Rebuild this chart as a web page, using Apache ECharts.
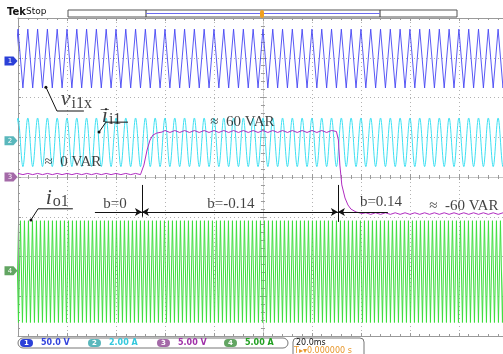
<!DOCTYPE html>
<html>
<head>
<meta charset="utf-8">
<script src="https://cdn.jsdelivr.net/npm/echarts@6/dist/echarts.min.js"></script>
<style>
  html, body { margin: 0; padding: 0; background: #fff; }
  #chart { width: 503px; height: 354px; }
</style>
</head>
<body>
<div id="chart"></div>
<script>
// Screen: 20 ms per division horizontally (trigger at 0), 8 divisions vertically.
const timeRangeMs = [-100, 98];
const timePerDivMs = 20;
const divRange = [-4, 4];

// Channel settings as shown in the status bar
const channelIds = ['1', '2', '3', '4'];
const channelScales = [50, 2, 5, 5];
const channelUnits = ['V', 'A', 'V', 'A'];
const channelOffsetDiv = [2.92, 0.91, 0, -2.36];
const channelColors = ['#4646f4', '#3ee0f2', '#b02cc0', '#3ede3e'];
const channelMarkerColors = ['#2b40d8', '#5ab7bc', '#a46aa8', '#62a562'];
const channelTextColors = ['#3344dd', '#33c8dd', '#a030a8', '#22a022'];

// Periodic traces (ch1 v_i1x, ch2 i_i1, ch4 i_o1): peak, trough, period, first peak
const waveChannels = [0, 1, 3];
const wavePeaks = [40, 1.15, 6.3];
const waveTroughs = [-34, -1.3, -6.5];
const wavePeriodsMs = [4.0, 4.0, 1.633];
const waveFirstPeakMs = [-100, -100, -99.0];

// Channel 3: reactive power trace [ms, V]
const reactiveTrace = [
  [-100, 0.45], [-98, 0.3], [-96, 0.45], [-94, 0.3], [-92, 0.45], [-90, 0.3],
  [-88, 0.45], [-86, 0.3], [-84, 0.45], [-82, 0.3], [-80, 0.45], [-78, 0.3],
  [-76, 0.45], [-74, 0.3], [-72, 0.45], [-70, 0.3], [-68, 0.45], [-66, 0.3],
  [-64, 0.45], [-62, 0.3], [-60, 0.45], [-58, 0.3], [-56, 0.45], [-54, 0.3],
  [-52, 0.45], [-50, 0.3],
  [-49.4, 0.5], [-48.6, 1.5], [-47.3, 3.4], [-46.1, 4.65], [-44.9, 5.28],
  [-43.3, 5.53], [-41.2, 5.66],
  [-40, 5.85], [-38, 5.6], [-36, 5.85], [-34, 5.6], [-32, 5.85], [-30, 5.6],
  [-28, 5.85], [-26, 5.6], [-24, 5.85], [-22, 5.6], [-20, 5.85], [-18, 5.6],
  [-16, 5.85], [-14, 5.6], [-12, 5.85], [-10, 5.6], [-8, 5.85], [-6, 5.6],
  [-4, 5.85], [-2, 5.6], [0, 5.85], [2, 5.6], [4, 5.85], [6, 5.6],
  [8, 5.85], [10, 5.6], [12, 5.85], [14, 5.6], [16, 5.85], [18, 5.6],
  [20, 5.85], [22, 5.6], [24, 5.85], [26, 5.6], [28, 5.85], [30, 5.72],
  [30.8, 4.65], [31.4, 1.5], [32.2, -1.0], [33.5, -2.64], [34.7, -3.52],
  [35.9, -4.03], [38, -4.4], [40.4, -4.59],
  [42, -4.5], [44, -4.7], [46, -4.5], [48, -4.7], [50, -4.5], [52, -4.7],
  [54, -4.5], [56, -4.7], [58, -4.5], [60, -4.7], [62, -4.5], [64, -4.7],
  [66, -4.5], [68, -4.7], [70, -4.5], [72, -4.7], [74, -4.5], [76, -4.7],
  [78, -4.5], [80, -4.7], [82, -4.5], [84, -4.7], [86, -4.5], [88, -4.7],
  [90, -4.5], [92, -4.7], [94, -4.5], [96, -4.7], [98, -4.5]
];

// Annotations in screen units [ms, div]
const noteTexts = [
  '{it|v}{sub|i1x}', '{it|i}{sub|i1}', '{bar|\u00af}', '{it|i}{sub|o1}',
  '{txt|≈  0 VAR}', '{txt|≈  60 VAR}', '{txt|≈  -60 VAR}',
  '{txt|b=0}', '{txt|b=-0.14}', '{txt|b=0.14}'
];
const notePositions = [
  [-76.2, 1.97], [-61.8, 1.56], [-64.6, 1.5], [-84.0, -0.5],
  [-77.6, 0.38], [-8.4, 1.38], [82, -0.73],
  [-60.4, -0.68], [-13.1, -0.68], [48.2, -0.63]
];
const leaderLines = [
  [[-88.6, 2.26], [-84.1, 1.66], [-73.1, 1.66]],
  [[-66.9, 1.13], [-64.1, 1.38], [-55.1, 1.38]],
  [[-94.7, -1.08], [-91.8, -0.8], [-77.6, -0.8]]
];
const switchTimesMs = [-49.4, 30.6];
const switchMarkDiv = [[-0.2, -1.0], [-0.2, -1.13]];
const arrowDiv = -0.88;
const arrowStartsMs = [-68.6, 51];

function zigzag(firstPeak, period, peak, trough) {
  const half = period / 2;
  const pts = [];
  let k = Math.floor((timeRangeMs[0] - firstPeak) / half) - 1;
  for (; firstPeak + k * half <= timeRangeMs[1] + half; k++) {
    const t = firstPeak + k * half;
    pts.push([+t.toFixed(4), ((k % 2) + 2) % 2 === 0 ? peak : trough]);
  }
  return pts;
}

const frameColor = '#9a9a9a';
const dotColor = '#b2b2b2';
const serif = '"Liberation Serif", "DejaVu Serif", serif';
const sans = '"DejaVu Sans", sans-serif';

const hidden = { show: false };
const tickStyle = { color: frameColor, width: 1 };

function timeAxis(extra) {
  return Object.assign({
    type: 'value',
    min: timeRangeMs[0],
    max: timeRangeMs[1],
    interval: timePerDivMs,
    axisLabel: hidden,
    splitLine: hidden,
    axisLine: { onZero: false, lineStyle: { color: frameColor, width: 1 } },
    axisTick: { show: true, inside: true, length: 3, lineStyle: tickStyle },
    minorTick: { show: true, splitNumber: 5, length: 2, lineStyle: tickStyle }
  }, extra);
}

function divAxis(extra) {
  return Object.assign({
    type: 'value',
    min: divRange[0],
    max: divRange[1],
    interval: 1,
    axisLabel: hidden,
    splitLine: hidden,
    axisLine: { onZero: false, lineStyle: { color: frameColor, width: 1 } },
    axisTick: { show: true, inside: true, length: 3, lineStyle: tickStyle },
    minorTick: { show: true, splitNumber: 5, length: 2, lineStyle: tickStyle }
  }, extra);
}

const xAxes = [
  timeAxis({ position: 'bottom', splitLine: { show: true, lineStyle: { type: [1, 3], color: dotColor } } }),
  timeAxis({ position: 'top' }),
  timeAxis({ position: 'bottom', axisLine: { onZero: true, onZeroAxisIndex: 0, lineStyle: { color: '#c4c4c4' } } }),
  timeAxis({ position: 'bottom', axisLine: { onZero: true, onZeroAxisIndex: 0, lineStyle: { color: '#c4c4c4' } },
    axisTick: { show: true, inside: false, length: 3, lineStyle: tickStyle } })
];

const yAxes = [
  divAxis({ position: 'left', splitLine: { show: true, lineStyle: { type: [1, 3], color: dotColor } } }),
  divAxis({ position: 'left', axisLine: { onZero: true, onZeroAxisIndex: 0, lineStyle: { color: '#c4c4c4', type: [1, 2] } } }),
  divAxis({ position: 'left', axisLine: { onZero: true, onZeroAxisIndex: 0, lineStyle: { color: '#c4c4c4', type: [1, 2] } },
    axisTick: { show: true, inside: false, length: 3, lineStyle: tickStyle } })
];
channelScales.forEach((scale, i) => {
  yAxes.push({
    type: 'value',
    show: false,
    min: (divRange[0] - channelOffsetDiv[i]) * scale,
    max: (divRange[1] - channelOffsetDiv[i]) * scale
  });
});
const channelAxisBase = 3;

function groundMarker(ch) {
  return {
    symbol: 'path://M0,0H9L13,5L9,10H0Z',
    symbolSize: [13, 9],
    symbolOffset: [-7, 0],
    itemStyle: { color: channelMarkerColors[ch] },
    label: { show: true, position: 'inside', offset: [-1, 0], color: '#fff', fontSize: 7, fontFamily: sans,
      formatter: channelIds[ch] },
    data: [{ coord: [timeRangeMs[0], 0] }],
    animation: false
  };
}

const series = [];
waveChannels.forEach((ch, i) => {
  series.push({
    name: 'ch' + channelIds[ch],
    type: 'line',
    xAxisIndex: 0,
    yAxisIndex: channelAxisBase + ch,
    data: zigzag(waveFirstPeakMs[i], wavePeriodsMs[i], wavePeaks[i], waveTroughs[i]),
    showSymbol: false,
    smooth: ch === 1 ? 0.35 : false,
    lineStyle: { color: channelColors[ch], width: ch === 0 ? 0.9 : 1 },
    markPoint: groundMarker(ch),
    z: 3
  });
});
series.push({
  name: 'ch3',
  type: 'line',
  xAxisIndex: 0,
  yAxisIndex: channelAxisBase + 2,
  data: reactiveTrace,
  showSymbol: false,
  lineStyle: { color: channelColors[2], width: 1 },
  markPoint: groundMarker(2),
  z: 4
});

// leader lines with a dot at the trace end
leaderLines.forEach((pts) => {
  series.push({
    type: 'line',
    xAxisIndex: 0,
    yAxisIndex: 0,
    data: pts.map((p, j) => ({ value: p, symbol: 'circle', symbolSize: j === 0 ? 3 : 0 })),
    showSymbol: true,
    lineStyle: { color: '#111', width: 1 },
    itemStyle: { color: '#111' },
    z: 6
  });
});

// switching instants, arrows and text notes
const arrowLines = [
  [{ coord: [arrowStartsMs[0], arrowDiv], symbol: 'none' }, { coord: [switchTimesMs[0], arrowDiv], symbol: 'arrow' }],
  [{ coord: [switchTimesMs[0], arrowDiv], symbol: 'arrow' }, { coord: [switchTimesMs[1], arrowDiv], symbol: 'arrow' }],
  [{ coord: [arrowStartsMs[1], arrowDiv], symbol: 'none' }, { coord: [switchTimesMs[1], arrowDiv], symbol: 'arrow' }]
];
switchTimesMs.forEach((t, i) => {
  arrowLines.push([
    { coord: [t, switchMarkDiv[i][0]], symbol: 'none' },
    { coord: [t, switchMarkDiv[i][1]], symbol: 'none' }
  ]);
});

series.push({
  type: 'scatter',
  xAxisIndex: 0,
  yAxisIndex: 0,
  symbolSize: 0,
  data: notePositions.map((p, i) => ({ value: p, label: { formatter: noteTexts[i] } })),
  label: {
    show: true,
    position: 'inside',
    rich: {
      it: { fontFamily: serif, fontStyle: 'italic', fontSize: 22, color: '#111', verticalAlign: 'top', lineHeight: 20 },
      sub: { fontFamily: serif, fontSize: 16, color: '#111', verticalAlign: 'top', lineHeight: 16, padding: [7, 0, 0, 1] },
      bar: { fontFamily: serif, fontSize: 16, color: '#111' },
      txt: { fontFamily: serif, fontSize: 15, color: '#111' }
    }
  },
  markLine: {
    silent: true,
    animation: false,
    symbolSize: [6, 7],
    label: hidden,
    lineStyle: { color: '#111', width: 1, type: 'solid' },
    data: arrowLines
  },
  z: 7
});

const chart = echarts.init(document.getElementById('chart'), null, { renderer: 'canvas' });

// scope chrome: header and channel status bar
const graphic = [
  { type: 'text', x: 7, y: 12, style: { text: 'Tek', font: 'bold 10px ' + sans, fill: '#111', verticalAlign: 'middle' } },
  { type: 'text', x: 26, y: 12, style: { text: 'Stop', font: '9px ' + sans, fill: '#111', verticalAlign: 'middle' } },
  { type: 'rect', shape: { x: 68, y: 10, width: 389, height: 7 }, style: { fill: '#fff', stroke: '#555', lineWidth: 1 } },
  { type: 'line', shape: { x1: 146, y1: 10, x2: 146, y2: 17 }, style: { stroke: '#333', lineWidth: 1 } },
  { type: 'line', shape: { x1: 380, y1: 10, x2: 380, y2: 17 }, style: { stroke: '#333', lineWidth: 1 } },
  { type: 'line', shape: { x1: 146, y1: 13.5, x2: 380, y2: 13.5 }, style: { stroke: '#6b6bf0', lineWidth: 1 } },
  { type: 'rect', shape: { x: 260, y: 10, width: 4, height: 8, r: 2 }, style: { fill: '#f0a020' } },
  { type: 'rect', shape: { x: 18, y: 338, width: 270, height: 10, r: 5 }, style: { fill: '#fff', stroke: '#777', lineWidth: 1 } },
  { type: 'rect', shape: { x: 293, y: 338, width: 71, height: 22, r: 4 }, style: { fill: '#fff', stroke: '#777', lineWidth: 1 } },
  { type: 'text', x: 296, y: 343, style: { text: '20.0ms', font: '8px ' + sans, fill: '#111', verticalAlign: 'middle' } },
  { type: 'text', x: 294, y: 351, style: { text: 'T\u25b8\u25be0.000000 s', font: '8px ' + sans, fill: '#e8962a', verticalAlign: 'middle' } }
];
const badgeX = [20, 88, 157, 224];
channelIds.forEach((id, i) => {
  graphic.push({ type: 'rect', shape: { x: badgeX[i], y: 339, width: 13, height: 8, r: 4 }, style: { fill: channelMarkerColors[i] } });
  graphic.push({ type: 'text', x: badgeX[i] + 6.5, y: 343, style: { text: id, font: 'bold 7px ' + sans, fill: '#fff', align: 'center', verticalAlign: 'middle' } });
  graphic.push({ type: 'text', x: badgeX[i] + 21, y: 343, style: {
    text: channelScales[i].toFixed(channelScales[i] >= 10 ? 1 : 2) + ' ' + channelUnits[i],
    font: 'bold 8px ' + sans, fill: channelTextColors[i], verticalAlign: 'middle' } });
});

chart.setOption({
  animation: false,
  backgroundColor: '#fff',
  grid: { left: 18, right: 0, top: 18, bottom: 18, containLabel: false },
  xAxis: xAxes,
  yAxis: yAxes,
  series: series,
  graphic: graphic
});
</script>
</body>
</html>
